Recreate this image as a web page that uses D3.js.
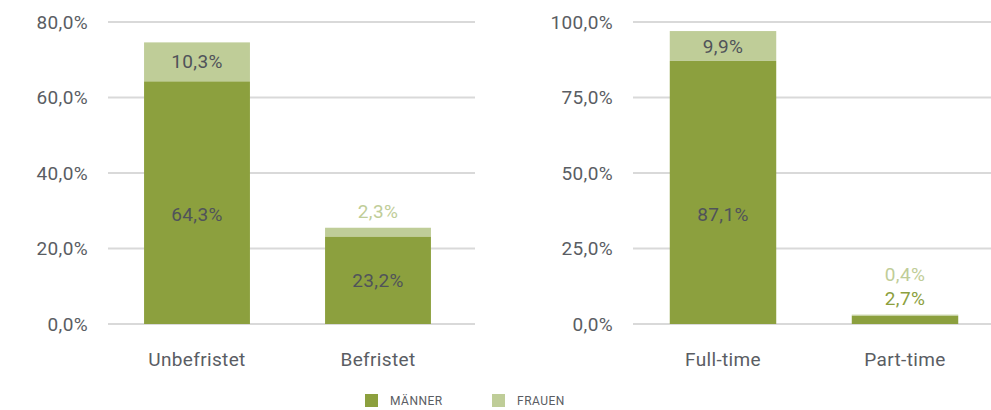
<!DOCTYPE html>
<html><head><meta charset="utf-8">
<script src="https://cdn.jsdelivr.net/npm/d3@7"></script>
<style>
body{margin:0;background:#fff;}
text{font-family:Roboto,"Noto Sans",sans-serif;}
</style></head>
<body><svg id="chart" width="991" height="410"></svg>
<script>
// Data
const leftCategories = ["Unbefristet", "Befristet"];
const leftMaenner = [64.3, 23.2];
const leftFrauen = [10.3, 2.3];
const leftTicks = [0, 20, 40, 60, 80];

const rightCategories = ["Full-time", "Part-time"];
const rightMaenner = [87.1, 2.7];
const rightFrauen = [9.9, 0.4];
const rightTicks = [0, 25, 50, 75, 100];

const seriesNames = ["MÄNNER", "FRAUEN"];
const colors = {m: "#8ca03e", f: "#bfcd98"};
const textDark = "#50535a";
const axisGrey = "#5a5d63";
const FS = 19, LS = 0.35;

const svg = d3.select("#chart");
const fmt = v => d3.format(".1f")(v).replace(".", ",") + "%";

function label(g, x, y, txt, fill, anchor) {
  return g.append("text").attr("x", x).attr("y", y)
    .attr("text-anchor", anchor || "middle").attr("dominant-baseline", "central")
    .attr("font-size", FS).attr("letter-spacing", LS).attr("fill", fill).text(txt);
}

function panel(cfg) {
  const g = svg.append("g");
  const y = d3.scaleLinear().domain([0, cfg.max]).range([324, 22]);
  const x = d3.scaleBand().domain(cfg.cats).range(cfg.xRange).paddingInner(0.415).paddingOuter(0.2075);

  g.selectAll("line.grid").data(cfg.ticks).join("line")
    .attr("x1", cfg.grid[0]).attr("x2", cfg.grid[1])
    .attr("y1", d => y(d)).attr("y2", d => y(d))
    .attr("stroke", "#d9d9d9").attr("stroke-width", 2);

  cfg.ticks.forEach(t => label(g, cfg.tickX, y(t), fmt(t), axisGrey, "end"));

  cfg.cats.forEach((c, i) => {
    const m = cfg.m[i], f = cfg.f[i];
    const bx = x(c), bw = x.bandwidth();
    g.append("rect").attr("x", bx).attr("width", bw)
      .attr("y", y(m)).attr("height", y(0) - y(m)).attr("fill", colors.m);
    g.append("rect").attr("x", bx).attr("width", bw)
      .attr("y", y(m + f)).attr("height", y(m) - y(m + f)).attr("fill", colors.f);

    const cx = bx + bw / 2;
    const mh = y(0) - y(m), fh = y(m) - y(m + f);
    const top = y(m + f);
    const outside = [];
    if (mh >= 24) label(g, cx, Math.max((y(0) + y(m)) / 2, y(0) - 110), fmt(m), textDark);
    else outside.push({v: m, c: colors.m});
    if (fh >= 24) label(g, cx, (y(m) + y(m + f)) / 2, fmt(f), textDark);
    else outside.push({v: f, c: colors.f});
    outside.forEach((o, k) => label(g, cx, top - 16 - k * 24, fmt(o.v), o.c));

    label(g, cx, 359, c, axisGrey);
  });
}

panel({cats: leftCategories, m: leftMaenner, f: leftFrauen, ticks: leftTicks, max: 80,
  xRange: [106.5, 468.5], grid: [108, 475], tickX: 88});
panel({cats: rightCategories, m: rightMaenner, f: rightFrauen, ticks: rightTicks, max: 100,
  xRange: [632, 996], grid: [633, 991], tickX: 613});

// legend
const leg = svg.append("g");
const legX = [365, 492];
seriesNames.forEach((n, i) => {
  leg.append("rect").attr("x", legX[i]).attr("y", 394).attr("width", 13).attr("height", 13)
    .attr("fill", i === 0 ? colors.m : colors.f);
  leg.append("text").attr("x", legX[i] + 25).attr("y", 401).attr("dominant-baseline", "central")
    .attr("font-size", 12).attr("letter-spacing", 0.5).attr("fill", axisGrey).text(n);
});
</script></body></html>
